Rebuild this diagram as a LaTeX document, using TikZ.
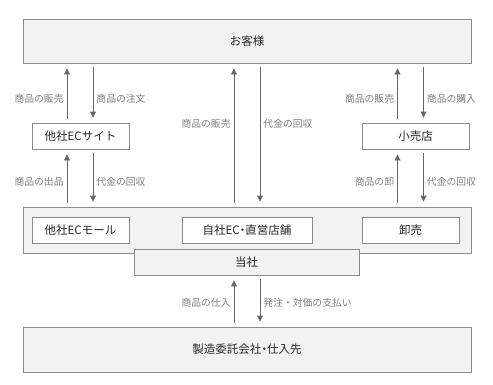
\documentclass[tikz,border=0pt]{standalone}
\usepackage{fontspec}
\setmainfont{Noto Sans CJK JP}
\newfontfamily\paltfont[RawFeature=+palt]{Noto Sans CJK JP}
\usetikzlibrary{arrows.meta, positioning}

\definecolor{boxfill}{HTML}{F2F2F2}
\definecolor{boxline}{HTML}{8C8C8C}
\definecolor{arrowgray}{HTML}{666666}
\definecolor{labelgray}{HTML}{7F7F7F}
\definecolor{textdark}{HTML}{262626}

\begin{document}
\begin{tikzpicture}[
    x=1pt, y=-1pt,
    panel/.style={rectangle, draw=boxline, fill=boxfill, line width=0.9pt, inner sep=0pt, font=\fontsize{11.5}{13}\selectfont, text=textdark},
    unit/.style={panel, fill=white, minimum height=26pt},
    arrow/.style={-{Triangle[length=6pt, width=6pt]}, line width=0.9pt, draw=arrowgray, shorten <=4pt, shorten >=5pt},
    flow/.style={font=\fontsize{9.8}{11}\selectfont, text=labelgray, inner sep=3pt}
]
\useasboundingbox (0,0) rectangle (493,384);

% Customers
\node[panel, minimum width=448pt, minimum height=44pt] (guest) at (247,41) {お客様};

% Intermediaries
\node[unit, minimum width=97pt] (site) at (80.5,136) {他社ECサイト};
\node[unit, minimum width=107pt] (retail) at (415.5,136) {小売店};

% Company band with channels
\node[panel, minimum width=448pt, minimum height=46pt] (band) at (247,230) {};
\node[unit, minimum width=97pt] (mall) at (80.5,230) {他社ECモール};
\node[unit, minimum width=130pt] (own) at (247,230) {\paltfont 自社EC・直営店舗};
\node[unit, minimum width=97pt] (wholesale) at (410.5,230) {卸売};
\node[panel, minimum width=225pt, minimum height=26pt] (company) at (246.5,262) {当社};

% Suppliers
\node[panel, minimum width=448pt, minimum height=45pt] (supplier) at (247,349.5) {\paltfont 製造委託会社・仕入先};

% Customers <-> EC site
\draw[arrow] ([xshift=-13.5pt]site.north) -- ([xshift=-13.5pt]site.north |- guest.south) node[pos=0.4, left, flow] {商品の販売};
\draw[arrow] ([xshift=12.5pt]site.north |- guest.south) -- ([xshift=12.5pt]site.north) node[pos=0.6, right, flow] {商品の注文};

% EC site <-> EC mall
\draw[arrow] ([xshift=-13.5pt]site.south |- band.north) -- ([xshift=-13.5pt]site.south) node[pos=0.43, left, flow] {商品の出品};
\draw[arrow] ([xshift=12.5pt]site.south) -- ([xshift=12.5pt]site.south |- band.north) node[pos=0.57, right, flow] {代金の回収};

% Customers <-> own channels
\draw[arrow] ([xshift=-13pt]own.north |- band.north) -- ([xshift=-13pt]own.north |- guest.south) node[pos=0.58, left, flow] {商品の販売};
\draw[arrow] ([xshift=13pt]own.north |- guest.south) -- ([xshift=13pt]own.north |- band.north) node[pos=0.42, right, flow] {代金の回収};

% Customers <-> retail
\draw[arrow] ([xshift=-13pt]wholesale.north |- retail.north) -- ([xshift=-13pt]wholesale.north |- guest.south) node[pos=0.4, left, flow] {商品の販売};
\draw[arrow] ([xshift=13pt]wholesale.north |- guest.south) -- ([xshift=13pt]wholesale.north |- retail.north) node[pos=0.6, right, flow] {商品の購入};

% Retail <-> wholesale
\draw[arrow] ([xshift=-13pt]wholesale.north |- band.north) -- ([xshift=-13pt]wholesale.north |- retail.south) node[pos=0.43, left, flow] {商品の卸};
\draw[arrow] ([xshift=13pt]wholesale.north |- retail.south) -- ([xshift=13pt]wholesale.north |- band.north) node[pos=0.57, right, flow] {代金の回収};

% Company <-> suppliers
\draw[arrow] ([xshift=-12.5pt]company.south |- supplier.north) -- ([xshift=-12.5pt]company.south) node[pos=0.46, left, flow] {商品の仕入};
\draw[arrow] ([xshift=13.5pt]company.south) -- ([xshift=13.5pt]company.south |- supplier.north) node[pos=0.54, right, flow] {発注・対価の支払い};

\end{tikzpicture}
\end{document}
